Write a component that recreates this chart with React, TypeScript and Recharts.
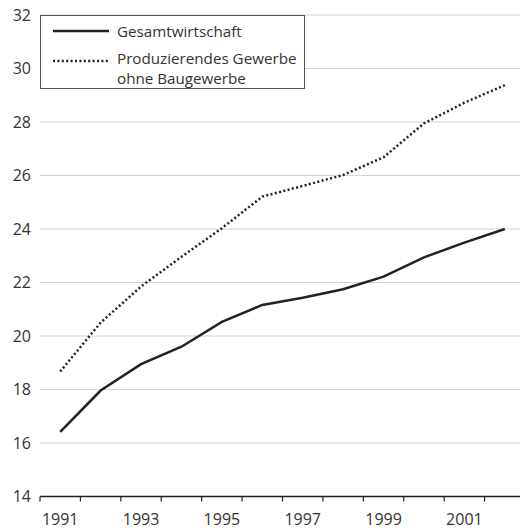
import React from "react";
import {
    LineChart,
    Line,
    XAxis,
    YAxis,
    CartesianGrid,
    Legend,
} from "recharts";

const years = ['1991', '1992', '1993', '1994', '1995', '1996', '1997', '1998', '1999', '2000', '2001', '2002'];
const gesamtwirtschaft = [16.42, 17.96, 18.95, 19.6, 20.53, 21.16, 21.43, 21.75, 22.22, 22.94, 23.49, 24.0];
const produzierend = [18.67, 20.5, 21.85, 22.96, 24.03, 25.21, 25.61, 26.02, 26.68, 27.95, 28.72, 29.38];
const yTicks = [14, 16, 18, 20, 22, 24, 26, 28, 30, 32];
const legendSolid = 'Gesamtwirtschaft';
const legendDotted = ['Produzierendes Gewerbe', 'ohne Baugewerbe'];

const data = years.map((year, i) => ({
    year,
    gesamt: gesamtwirtschaft[i],
    produz: produzierend[i],
}));

const FONT = '"Open Sans", sans-serif';
const TEXT = '#333';

// ticks sit on the band edges, labels only on odd years
const YearTick = (props: any) => {
    const { x, y, payload, index, visibleTicksCount } = props;
    const half = payload.offset || 20;
    const label = Number(payload.value) % 2 === 1 ? payload.value : '';
    return (
        <g>
            <line x1={x - half} x2={x - half} y1={y - 5} y2={y} stroke="#222" strokeWidth={1.2} />
            {index === visibleTicksCount - 1 && (
                <line x1={x + half} x2={x + half} y1={y - 5} y2={y} stroke="#222" strokeWidth={1.2} />
            )}
            <text x={x} y={y} dy={23} textAnchor="middle" fill={TEXT} fontSize={16} fontFamily={FONT}>
                {label}
            </text>
        </g>
    );
};

const legendLine = { position: 'absolute' as const, left: 76, lineHeight: '18px', whiteSpace: 'nowrap' as const };

const LegendBox = () => (
    <div
        style={{
            width: 263,
            height: 72,
            border: '1px solid #555',
            background: '#fff',
            fontFamily: FONT,
            fontSize: 15.2,
            color: TEXT,
            position: 'relative',
        }}
    >
        <svg width={60} height={72} style={{ position: 'absolute', left: 10, top: 0 }}>
            <line x1={2} x2={58} y1={15} y2={15} stroke="#222" strokeWidth={2.5} />
            <line x1={2} x2={58} y1={45} y2={45} stroke="#222" strokeWidth={2.5} strokeDasharray="2 2.4" />
        </svg>
        <div style={{ ...legendLine, top: 6 }}>{legendSolid}</div>
        <div style={{ ...legendLine, top: 33 }}>{legendDotted[0]}</div>
        <div style={{ ...legendLine, top: 53 }}>{legendDotted[1]}</div>
    </div>
);

const App = () => {
    return (
        <div style={{ position: 'absolute', left: 0, top: 0, width: 520, height: 528, overflow: 'hidden', background: '#fff' }}>
            <LineChart
                width={530}
                height={528}
                data={data}
                margin={{ top: 15, right: 5, left: 0, bottom: 0 }}
                style={{ fontFamily: FONT }}
            >
                <CartesianGrid vertical={false} stroke="#d4d4d4" strokeWidth={1.2} />
                <XAxis
                    dataKey="year"
                    scale="band"
                    height={31.5}
                    interval={0}
                    tickSize={5}
                    tickMargin={0}
                    tickLine={false}
                    axisLine={{ stroke: '#222', strokeWidth: 1.5 }}
                    tick={<YearTick />}
                />
                <YAxis
                    domain={[14, 32]}
                    ticks={yTicks}
                    width={40}
                    axisLine={false}
                    tickLine={false}
                    tickMargin={3}
                    tick={{ fill: TEXT, fontSize: 16, fontFamily: FONT }}
                />
                <Legend
                    layout="vertical"
                    align="center"
                    verticalAlign="middle"
                    content={<LegendBox />}
                    wrapperStyle={{ position: 'absolute', left: 40, top: 15, width: 'auto' }}
                />
                <Line
                    dataKey="produz"
                    stroke="#222"
                    strokeWidth={2.5}
                    strokeDasharray="2 2.4"
                    dot={false}
                    isAnimationActive={false}
                />
                <Line
                    dataKey="gesamt"
                    stroke="#222"
                    strokeWidth={2.5}
                    dot={false}
                    isAnimationActive={false}
                />
            </LineChart>
        </div>
    );
};

export default App;
